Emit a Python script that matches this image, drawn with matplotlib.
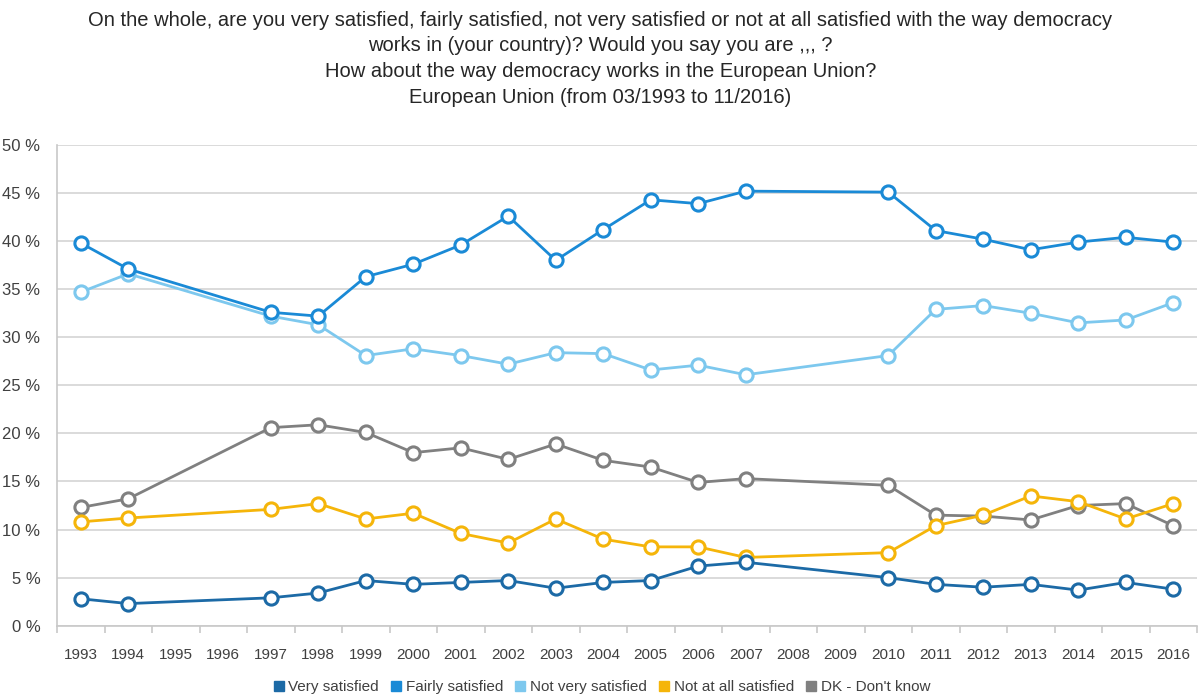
import matplotlib
matplotlib.use("Agg")
import matplotlib.pyplot as plt
from matplotlib.lines import Line2D
import numpy as np

plt.rcParams['font.family'] = ['Liberation Sans', 'DejaVu Sans']

all_years = ["1993", "1994", "1995", "1996", "1997", "1998", "1999", "2000", "2001", "2002",
             "2003", "2004", "2005", "2006", "2007", "2008", "2009", "2010", "2011", "2012",
             "2013", "2014", "2015", "2016"]
data_years = ["1993", "1994", "1997", "1998", "1999", "2000", "2001", "2002", "2003", "2004",
              "2005", "2006", "2007", "2010", "2011", "2012", "2013", "2014", "2015", "2016"]

very_satisfied = [2.8, 2.3, 2.9, 3.4, 4.7, 4.3, 4.5, 4.7, 3.9, 4.5,
                  4.7, 6.2, 6.6, 5.0, 4.3, 4.0, 4.3, 3.7, 4.5, 3.8]
fairly_satisfied = [39.8, 37.1, 32.6, 32.2, 36.3, 37.6, 39.6, 42.6, 38.0, 41.2,
                    44.3, 43.9, 45.2, 45.1, 41.1, 40.2, 39.1, 39.9, 40.4, 39.9]
not_very_satisfied = [34.7, 36.6, 32.2, 31.3, 28.1, 28.8, 28.1, 27.2, 28.4, 28.3,
                      26.6, 27.1, 26.1, 28.1, 32.9, 33.3, 32.5, 31.5, 31.8, 33.6]
not_at_all_satisfied = [10.8, 11.2, 12.1, 12.7, 11.1, 11.7, 9.6, 8.6, 11.1, 9.0,
                        8.2, 8.2, 7.1, 7.6, 10.4, 11.5, 13.5, 12.9, 11.1, 12.7]
dont_know = [12.3, 13.2, 20.6, 20.9, 20.1, 18.0, 18.5, 17.3, 18.9, 17.2,
             16.5, 14.9, 15.3, 14.6, 11.5, 11.4, 11.0, 12.5, 12.7, 10.4]

series_names = ["Very satisfied", "Fairly satisfied", "Not very satisfied",
                "Not at all satisfied", "DK - Don't know"]
series_values = [very_satisfied, fairly_satisfied, not_very_satisfied,
                 not_at_all_satisfied, dont_know]
colors = ["#1c6aa6", "#1a8ad6", "#7dc8ee", "#f5b50a", "#808080"]
y_ticks = [0, 5, 10, 15, 20, 25, 30, 35, 40, 45, 50]

fig = plt.figure(figsize=(12.01, 6.97), dpi=100)
ax = fig.add_axes([57/1201, 1 - 625.7/697, (1197-57)/1201, (625.7-145)/697])

xpos = [all_years.index(y) for y in data_years]
order = [4, 3, 2, 1, 0]
for i in order:
    ax.plot(xpos, series_values[i], color=colors[i], lw=2.0, marker='o', ms=9.5,
            mfc='white', mec=colors[i], mew=2.2, zorder=3 + (4 - i) * 0.1)

ax.set_xlim(-0.5, len(all_years) - 0.5)
ax.set_ylim(0, 50)
ax.set_yticks(y_ticks)
ax.set_yticklabels([f"{v} %" for v in y_ticks], fontsize=12, color='#404040')
ax.yaxis.grid(True, color='#d4d4d4', lw=1.2)
ax.set_axisbelow(True)

ax.set_xticks(np.arange(len(all_years) + 1) - 0.5)
ax.set_xticklabels([])
ax.set_xticks(np.arange(len(all_years)), minor=True)
ax.set_xticklabels(all_years, minor=True, fontsize=11, color='#404040')
ax.tick_params(axis='x', which='major', length=5, color='#c8c8c8', width=1.2)
ax.tick_params(axis='x', which='minor', length=0, pad=16)
ax.tick_params(axis='y', length=0, pad=12)

for s in ['top', 'right']:
    ax.spines[s].set_visible(False)
for s in ['left', 'bottom']:
    ax.spines[s].set_color('#c8c8c8')
    ax.spines[s].set_linewidth(1.2)

title_lines = ["On the whole, are you very satisfied, fairly satisfied, not very satisfied or not at all satisfied with the way democracy",
               "works in (your country)? Would you say you are ,,, ?",
               "How about the way democracy works in the European Union?",
               "European Union (from 03/1993 to 11/2016)"]
for k, line in enumerate(title_lines):
    fig.text(0.5, 1 - (20 + 25.7 * k) / 697, line, ha='center', va='center',
             fontsize=14.5, color='#262626')

handles = [Line2D([], [], ls='none', marker='s', ms=7.5, mfc=c, mec=c) for c in colors]
fig.legend(handles, series_names, loc='center', bbox_to_anchor=(0.5, 1 - 687/697),
           ncol=5, frameon=False, fontsize=11, handletextpad=0.15,
           columnspacing=0.6, handlelength=1.0, labelcolor='#404040')

fig.savefig("out.png", dpi=100)
